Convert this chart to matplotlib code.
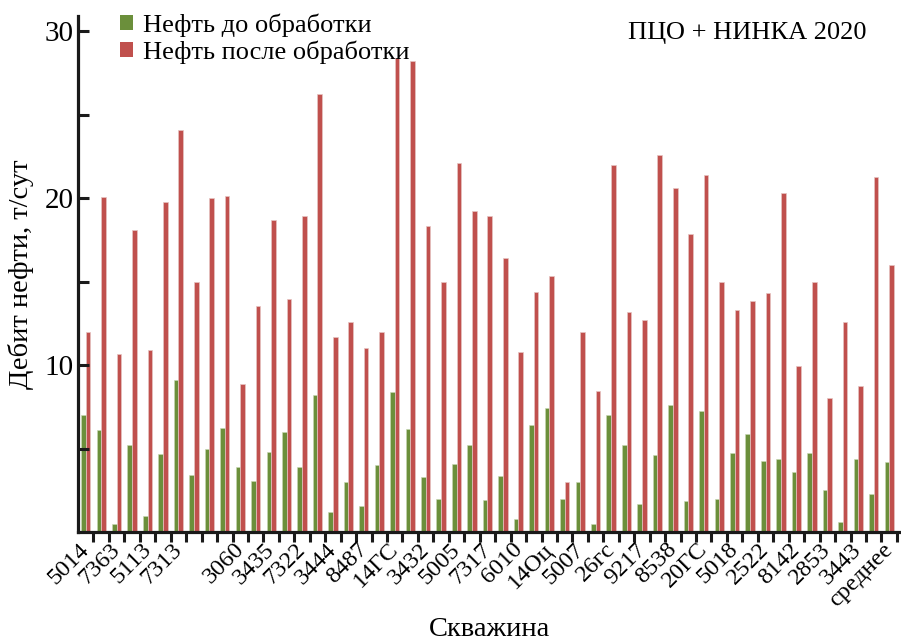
import matplotlib
matplotlib.use("Agg")
import matplotlib.pyplot as plt
import numpy as np
from matplotlib.patches import Patch
from matplotlib.transforms import ScaledTranslation

plt.rcParams['font.family'] = ['Liberation Serif', 'DejaVu Serif']

# Labels shown on the axis (every second well)
shown_labels = ["5014", "7363", "5113", "7313", "", "3060", "3435", "7322", "3444",
                "8487", "14ГС", "3432", "5005", "7317", "6010", "14Оц", "5007",
                "26гс", "9217", "8538", "20ГС", "5018", "2522", "8142", "2853",
                "3443", "среднее"]

before = [7.0, 6.1, 0.45, 5.2, 0.95, 4.7, 9.1, 3.4, 5.0, 6.2,
          3.9, 3.05, 4.8, 6.0, 3.9, 8.2, 1.2, 3.0, 1.55, 4.0,
          8.4, 6.15, 3.3, 2.0, 4.1, 5.2, 1.9, 3.35, 0.8, 6.4,
          7.4, 2.0, 3.0, 0.45, 7.0, 5.2, 1.7, 4.6, 7.6, 1.85,
          7.25, 2.0, 4.75, 5.85, 4.27, 4.35, 3.6, 4.75, 2.5, 0.58,
          4.35, 2.25, 4.17]
after = [12.0, 20.05, 10.65, 18.1, 10.9, 19.75, 24.1, 15.0, 20.0, 20.15,
         8.85, 13.55, 18.7, 13.95, 18.9, 26.2, 11.7, 12.6, 11.0, 12.0,
         28.4, 28.2, 18.3, 15.0, 22.1, 19.2, 18.9, 16.4, 10.75, 14.35,
         15.35, 3.0, 12.0, 8.45, 21.95, 13.15, 12.7, 22.55, 20.6, 17.85,
         21.4, 15.0, 13.3, 13.85, 14.3, 20.3, 9.96, 15.0, 8.0, 12.55,
         8.74, 21.25, 16.0]

green = '#6b8f3b'
red = '#c0504d'

fig = plt.figure(figsize=(9.01, 6.41), dpi=100)
ax = fig.add_axes([78/901, 109/641, 822/901, 516/641])

n = len(before)
x = np.arange(n)
w = 0.3
ax.bar(x - w/2, before, width=w, color=green, edgecolor='#c9d8b4', linewidth=0.4)
ax.bar(x + w/2, after, width=w, color=red, edgecolor='#e6c4c2', linewidth=0.5)

ax.set_xlim(-0.5, 52.7)
ax.set_ylim(0, 30.9)

for s in ['top', 'right']:
    ax.spines[s].set_visible(False)
for s in ['left', 'bottom']:
    ax.spines[s].set_linewidth(2.3)
    ax.spines[s].set_color('#1a1a1a')

ax.set_yticks([10, 20, 30])
ax.set_yticks([5, 15, 25], minor=True)
ax.tick_params(axis='y', which='both', direction='in', length=8, width=2.2,
               color='#1a1a1a', labelsize=21, pad=3)

# boundary ticks (major, no labels), labels on minor ticks with zero length
ax.set_xticks(np.arange(n) + 0.5)
ax.set_xticklabels([])
ax.tick_params(axis='x', which='major', direction='out', length=7, width=2.2,
               color='#1a1a1a')
label_pos = np.arange(0, n, 2)
ax.set_xticks(label_pos, minor=True)
ax.set_xticklabels(shown_labels, minor=True, rotation=45, ha='right',
                   va='top', rotation_mode='anchor', fontsize=17.5)
ax.tick_params(axis='x', which='minor', length=0, pad=5)
off = ScaledTranslation(-0.07, 0, fig.dpi_scale_trans)
for lab in ax.get_xticklabels(minor=True):
    lab.set_transform(lab.get_transform() + off)

ax.set_ylabel('Дебит нефти, т/сут', fontsize=20.5, labelpad=8)
ax.set_xlabel('Скважина', fontsize=20.5, labelpad=6)
ax.xaxis.set_label_coords(0.5, -0.165)

handles = [Patch(facecolor=green, edgecolor='none'),
           Patch(facecolor=red, edgecolor='none')]
fig.legend(handles, ['Нефть до обработки', 'Нефть после обработки'],
           loc='upper left', bbox_to_anchor=(115/901, 1 - 8/641),
           frameon=False, fontsize=19, handlelength=0.5, handleheight=0.5,
           handletextpad=0.35, labelspacing=0.15, borderaxespad=0, borderpad=0.2)

fig.text(866/901, 1 - 33/641, 'ПЦО + НИНКА 2020', fontsize=19, ha='right',
         va='center')

fig.savefig('out.png', dpi=100)
